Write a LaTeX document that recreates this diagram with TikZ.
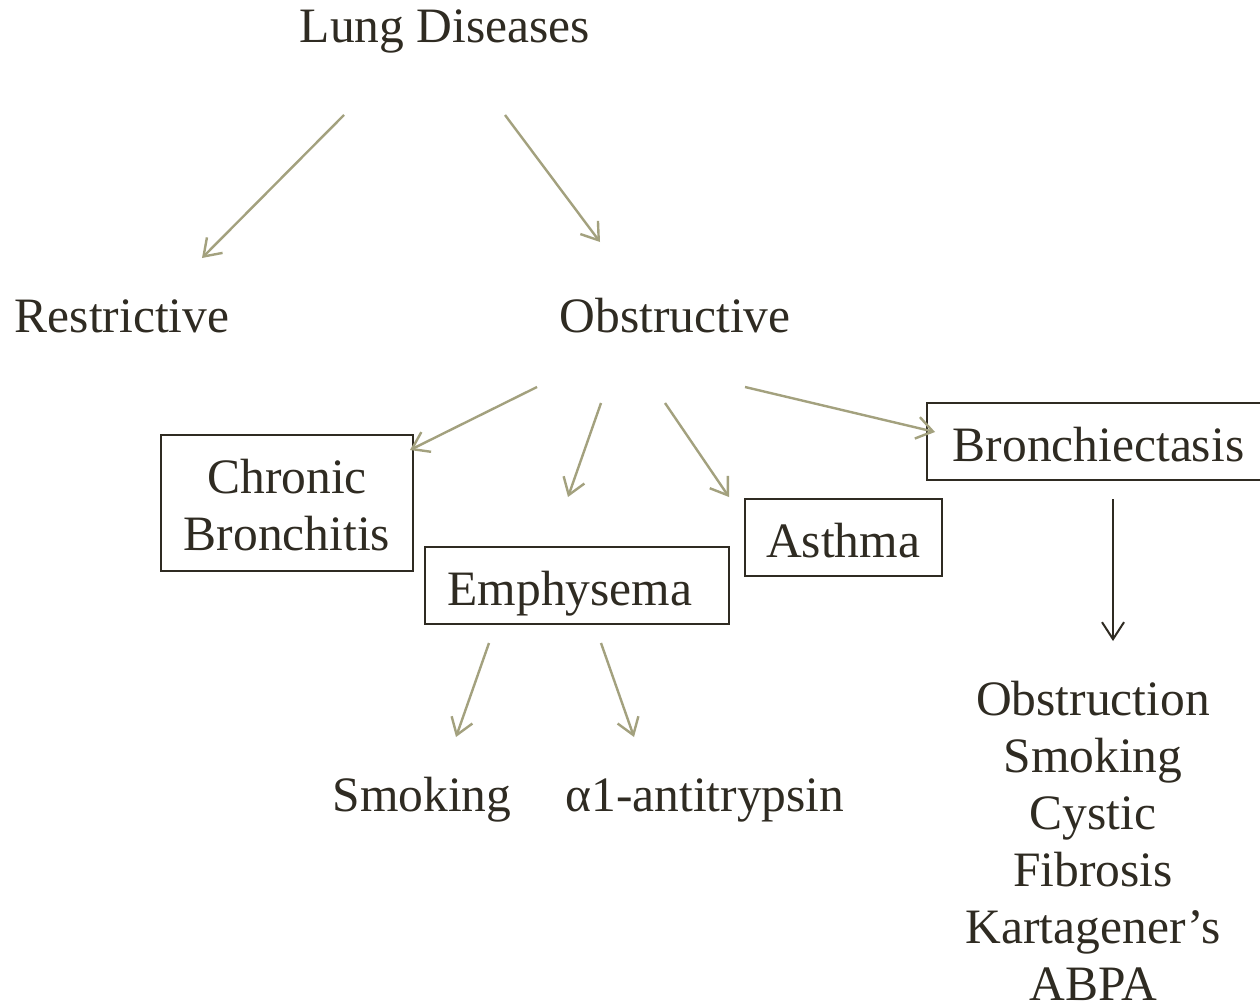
\documentclass[tikz,border=0pt]{standalone}
\usepackage{fontspec}
\setmainfont{Liberation Serif}
\usetikzlibrary{arrows.meta}
\definecolor{ink}{HTML}{2F2B22}
\definecolor{olive}{HTML}{A3A17E}
\begin{document}
\begin{tikzpicture}[x=1pt,y=-1pt,
  lbl/.style={font=\fontsize{49.5}{57}\selectfont, text=ink, inner sep=0pt},
  box/.style={draw=ink, line width=1.8pt, inner sep=0pt},
  link/.style={draw=olive, line width=2.4pt, -{Straight Barb[length=16pt,width=22pt]}},
  darklink/.style={draw=ink, line width=2pt, -{Straight Barb[length=17pt,width=22pt]}}]
\useasboundingbox (0,0) rectangle (1260,1006);
\fill[white] (0,0) rectangle (1260,1006);

% top level and first split
\node[lbl, anchor=base] (lung)  at (445,43)  {Lung Diseases};
\node[lbl, anchor=base] (restr) at (122,332) {Restrictive};
\node[lbl, anchor=base] (obstr) at (675,332) {Obstructive};

% boxed obstructive diseases
\node[box, minimum width=252pt, minimum height=136pt] (cbbox) at (287,503) {};
\node[lbl, align=center] (cb) at (287,505) {Chronic\\Bronchitis};
\node[box, minimum width=304pt, minimum height=77pt] (embox) at (577,585.5) {};
\node[lbl, anchor=base] (emph) at (570,605) {Emphysema};
\node[box, minimum width=197pt, minimum height=77pt] (asbox) at (843.5,537.5) {};
\node[lbl, anchor=base] (asth) at (843,557) {Asthma};
\node[box, minimum width=336pt, minimum height=77pt] (brbox) at (1095,441.5) {};
\node[lbl, anchor=base] (bron) at (1098.5,461) {Bronchiectasis};

% causes
\node[lbl, anchor=base] (smok)  at (422,811) {Smoking};
\node[lbl, anchor=base] (alpha) at (705,811) {α1-antitrypsin};
\node[lbl, align=center, anchor=north] (causes) at (1093,681)
  {Obstruction\\Smoking\\Cystic\\Fibrosis\\Kartagener’s\\ABPA};

% connector end points
\coordinate (l-r0) at (344,115);  \coordinate (l-r1) at (202,258);
\coordinate (l-o0) at (505,115);  \coordinate (l-o1) at (600,242);
\coordinate (o-c0) at (537,387);  \coordinate (o-c1) at (410,450);
\coordinate (o-e0) at (601,403);  \coordinate (o-e1) at (568,497);
\coordinate (o-a0) at (665,403);  \coordinate (o-a1) at (729,497);
\coordinate (o-b0) at (745,387);  \coordinate (o-b1) at (935,432);
\coordinate (e-s0) at (489,643);  \coordinate (e-s1) at (456,737);
\coordinate (e-a0) at (601,643);  \coordinate (e-a1) at (634,737);
\coordinate (b-c0) at (1113,499); \coordinate (b-c1) at (1113,641);

\draw[link] (l-r0) -- (l-r1);
\draw[link] (l-o0) -- (l-o1);
\draw[link] (o-c0) -- (o-c1);
\draw[link] (o-e0) -- (o-e1);
\draw[link] (o-a0) -- (o-a1);
\draw[link] (o-b0) -- (o-b1);
\draw[link] (e-s0) -- (e-s1);
\draw[link] (e-a0) -- (e-a1);
\draw[darklink] (b-c0) -- (b-c1);
\end{tikzpicture}
\end{document}
